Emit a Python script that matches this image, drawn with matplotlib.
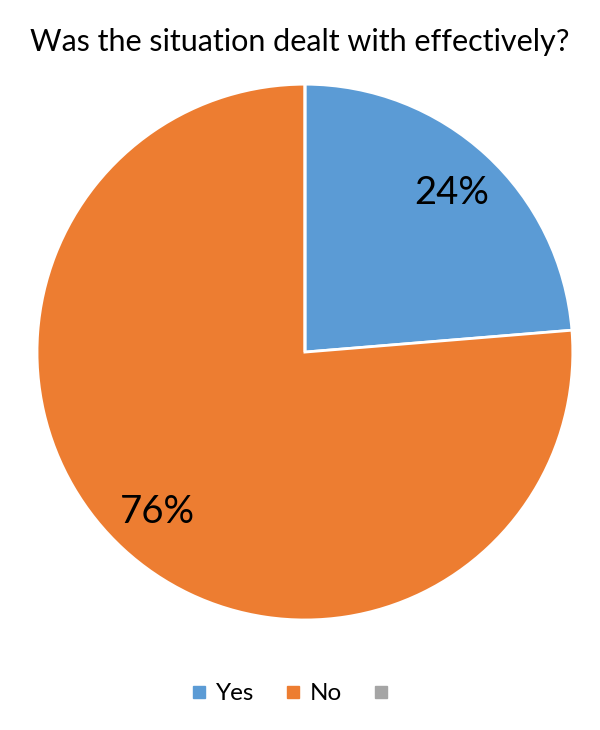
import matplotlib.pyplot as plt
from matplotlib.lines import Line2D

categories = ['Yes', 'No', '']
shares = [23.7, 76.3, 0]
pct_labels = ['24%', '76%', '']
colors = ['#5B9BD5', '#ED7D31', '#A5A5A5']

plt.rcParams['font.family'] = ['Lato', 'DejaVu Sans']

fig = plt.figure(figsize=(6, 7.3), dpi=100)
ax = fig.add_axes([0.0617, 0.1507, 0.893, 0.734])

wedges, texts = ax.pie(
    shares, colors=colors, startangle=90, counterclock=False,
    labels=pct_labels, labeldistance=0.81, radius=1.0,
    wedgeprops=dict(edgecolor='white', linewidth=2),
    textprops=dict(fontsize=27.5, color='black', ha='center', va='center'))
ax.set_xlim(-1, 1)
ax.set_ylim(-1, 1)
ax.set_aspect('equal')

fig.text(0.5, 0.942, 'Was the situation dealt with effectively?',
         ha='center', va='center', fontsize=22)

# square legend keys
handles = [Line2D([], [], linestyle='none', marker='s', markersize=8.5,
                  markerfacecolor=c, markeredgecolor=c) for c in colors]
fig.legend(handles, categories, loc='center', bbox_to_anchor=(0.492, 0.05),
           ncol=3, frameon=False, fontsize=17.5, handlelength=0.5,
           columnspacing=1.35, handletextpad=0.45)

fig.savefig('out.png', dpi=100)
